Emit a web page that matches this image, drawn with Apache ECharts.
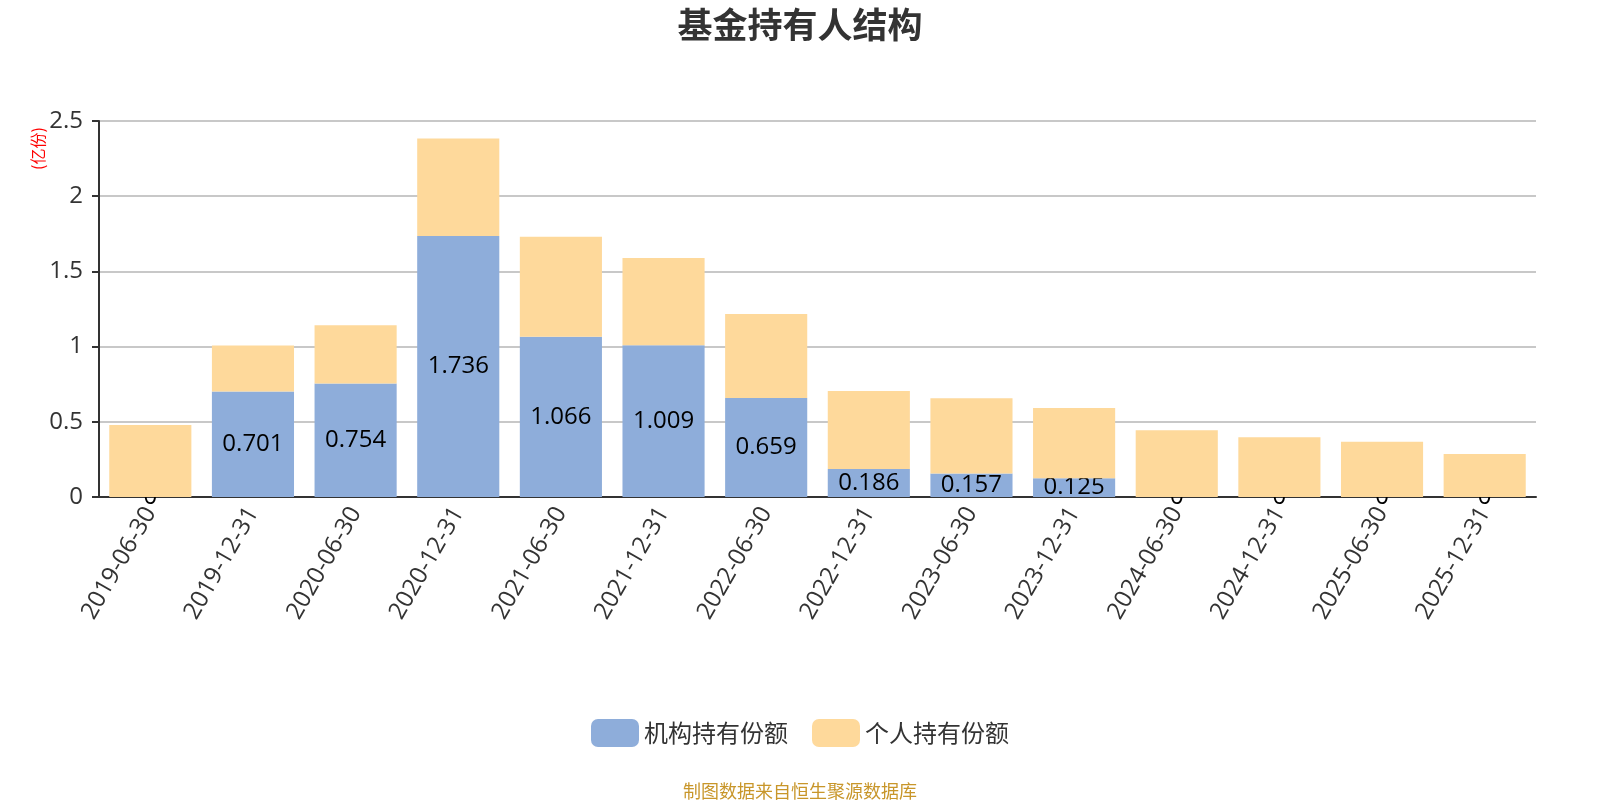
<!DOCTYPE html>
<html>
<head>
<meta charset="utf-8">
<title>基金持有人结构</title>
<script src="https://cdn.jsdelivr.net/npm/echarts@6/dist/echarts.min.js"></script>
<style>
    html, body { margin: 0; padding: 0; background: #fff; }
    #chart { width: 1600px; height: 800px; }
</style>
</head>
<body>
<div id="chart"></div>
<script>
// 报告期
const categories = [
    '2019-06-30', '2019-12-31', '2020-06-30', '2020-12-31', '2021-06-30',
    '2021-12-31', '2022-06-30', '2022-12-31', '2023-06-30', '2023-12-31',
    '2024-06-30', '2024-12-31', '2025-06-30', '2025-12-31'
];

// 机构持有份额 (亿份)
const institutionShares = [0, 0.701, 0.754, 1.736, 1.066, 1.009, 0.659, 0.186, 0.157, 0.125, 0, 0, 0, 0];

// 个人持有份额 (亿份) — 从图上估读
const personalShares = [0.478, 0.306, 0.388, 0.648, 0.665, 0.580, 0.558, 0.518, 0.500, 0.466, 0.443, 0.398, 0.367, 0.286];

const yTicks = { min: 0, max: 2.5, interval: 0.5 };

const FONT = '"Open Sans", "Noto Sans CJK SC", sans-serif';
const CJK_FONT = '"Noto Sans CJK SC", sans-serif';

const chart = echarts.init(document.getElementById('chart'));

const option = {
    backgroundColor: '#fff',
    textStyle: { fontFamily: FONT },
    title: {
        text: '基金持有人结构',
        left: 'center',
        top: 2,
        textStyle: { fontSize: 35, fontWeight: 'bold', color: '#333', fontFamily: CJK_FONT }
    },
    grid: {
        left: 99,
        right: 64,
        top: 121,
        bottom: 303
    },
    legend: {
        bottom: 48,
        left: 'center',
        itemWidth: 48,
        itemHeight: 28,
        itemGap: 24,
        textStyle: { fontSize: 24, color: '#333', fontFamily: CJK_FONT },
        data: ['机构持有份额', '个人持有份额']
    },
    graphic: [
        {
            type: 'text',
            left: 'center',
            bottom: 0,
            style: {
                text: '制图数据来自恒生聚源数据库',
                fill: '#C8962A',
                fontSize: 18,
                fontFamily: CJK_FONT
            }
        },
        {
            // 纵轴单位
            type: 'text',
            x: 30,
            y: 170,
            rotation: Math.PI / 2,
            style: {
                text: '(亿份)',
                fill: '#ff0000',
                fontSize: 16,
                fontFamily: CJK_FONT
            }
        }
    ],
    xAxis: {
        type: 'category',
        data: categories,
        axisLine: { lineStyle: { color: '#333', width: 2 } },
        axisTick: { lineStyle: { color: '#333', width: 2 }, length: 7 },
        axisLabel: {
            rotate: 60,
            fontSize: 24,
            color: '#333',
            interval: 0,
            margin: 12
        }
    },
    yAxis: {
        type: 'value',
        min: yTicks.min,
        max: yTicks.max,
        interval: yTicks.interval,
        axisLine: { show: true, lineStyle: { color: '#333', width: 2 } },
        axisTick: { show: true, lineStyle: { color: '#333', width: 2 }, length: 7 },
        axisLabel: { fontSize: 24, color: '#333', margin: 16 },
        splitLine: { lineStyle: { color: '#c8c8c8', width: 2 } }
    },
    series: [
        {
            name: '机构持有份额',
            type: 'bar',
            stack: 'total',
            barWidth: '80%',
            z: 2,
            data: institutionShares,
            itemStyle: { color: '#8EADDA' },
            label: {
                show: true,
                position: 'inside',
                color: '#000',
                fontSize: 24
            }
        },
        {
            name: '个人持有份额',
            type: 'bar',
            stack: 'total',
            barWidth: '80%',
            z: 3,
            data: personalShares,
            itemStyle: { color: '#FED99B' }
        }
    ]
};

chart.setOption(option);
</script>
</body>
</html>
